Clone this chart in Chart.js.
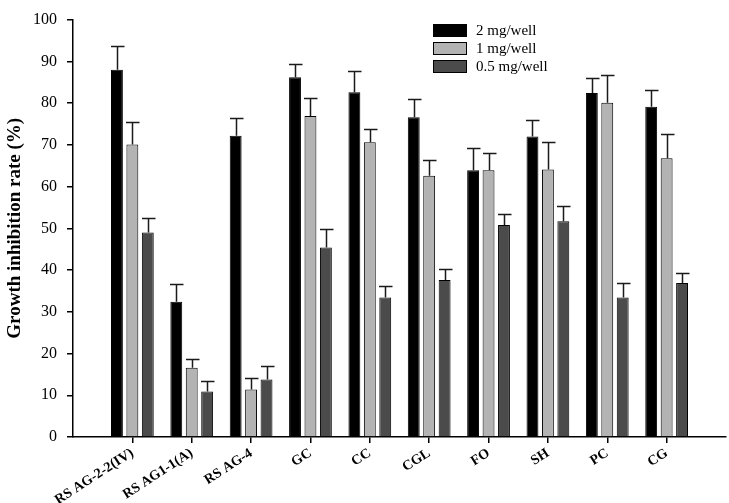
<!DOCTYPE html>
<html>
<head>
<meta charset="utf-8">
<script src="https://cdn.jsdelivr.net/npm/chart.js@4.4.1/dist/chart.umd.min.js"></script>
<style>
  html, body { margin: 0; padding: 0; background: #fff; }
  #wrap { width: 729px; height: 503px; }
</style>
</head>
<body>
<div id="wrap"><canvas id="myChart" width="729" height="503"></canvas></div>
<script>
const categories = ["RS AG-2-2(IV)", "RS AG1-1(A)", "RS AG-4", "GC", "CC", "CGL", "FO", "SH", "PC", "CG"];
const seriesNames = ["2 mg/well", "1 mg/well", "0.5 mg/well"];

const dose2 = [88.0, 32.4, 72.2, 86.2, 82.6, 76.6, 63.9, 72.0, 82.4, 79.1];
const dose1 = [70.1, 16.6, 11.4, 76.9, 70.6, 62.6, 63.9, 64.1, 80.1, 66.8];
const dose05 = [49.0, 10.9, 13.8, 45.4, 33.4, 37.6, 50.8, 51.7, 33.4, 36.9];

const err2 = [5.6, 4.2, 4.2, 3.2, 5.1, 4.3, 5.3, 3.9, 3.5, 4.0];
const err1 = [5.4, 2.1, 2.7, 4.2, 3.3, 3.7, 4.2, 6.6, 6.7, 5.7];
const err05 = [3.5, 2.5, 3.2, 4.5, 2.8, 2.7, 2.6, 3.6, 3.4, 2.5];

const yTicks = [0, 10, 20, 30, 40, 50, 60, 70, 80, 90, 100];

const barColors = ["#000000", "#b3b3b3", "#4b4b4b"];
const serif = '"Liberation Serif", "Times New Roman", serif';

// empty slot on each side so the axis runs past the first and last group
const pad = arr => [null, ...arr, null];
const labels = ["", ...categories, ""];
const errors = [pad(err2), pad(err1), pad(err05)];

const errorBars = {
    id: 'errorBars',
    afterDatasetsDraw(chart) {
        const ctx = chart.ctx;
        const y = chart.scales.y;
        ctx.save();
        ctx.strokeStyle = '#1a1a1a';
        ctx.lineWidth = 1.5;
        chart.data.datasets.forEach((ds, i) => {
            const meta = chart.getDatasetMeta(i);
            meta.data.forEach((bar, j) => {
                const v = ds.data[j];
                const e = errors[i][j];
                if (v == null || e == null) return;
                const top = Math.round(y.getPixelForValue(v + e)) + 0.5;
                const x = Math.round(bar.x) + 0.5;
                ctx.beginPath();
                ctx.moveTo(x, bar.y);
                ctx.lineTo(x, top);
                ctx.moveTo(x - 6.5, top);
                ctx.lineTo(x + 7, top);
                ctx.stroke();
            });
        });
        ctx.restore();
    }
};

const boxLegend = {
    id: 'boxLegend',
    afterDraw(chart) {
        const ctx = chart.ctx;
        ctx.save();
        ctx.font = '15px ' + serif;
        ctx.textBaseline = 'middle';
        chart.data.datasets.forEach((ds, i) => {
            const top = 24 + i * 18;
            ctx.fillStyle = ds.backgroundColor;
            ctx.fillRect(433, top, 34, 13);
            ctx.strokeStyle = '#000';
            ctx.lineWidth = 1;
            ctx.strokeRect(433.5, top + 0.5, 33, 12);
            ctx.fillStyle = '#000';
            ctx.fillText(ds.label, 476, top + 7);
        });
        ctx.restore();
    }
};

new Chart("myChart", {
    type: "bar",
    data: {
        labels: labels,
        datasets: [dose2, dose1, dose05].map((vals, i) => ({
            label: seriesNames[i],
            data: pad(vals),
            backgroundColor: barColors[i],
            borderColor: '#000',
            borderWidth: 1,
            categoryPercentage: 0.78,
            barPercentage: 0.77
        }))
    },
    options: {
        responsive: false,
        animation: false,
        layout: { padding: { top: 10, right: 3, left: 0, bottom: 0 } },
        plugins: {
            legend: { display: false },
            tooltip: { enabled: false }
        },
        scales: {
            x: {
                offset: false,
                grid: {
                    offset: false,
                    drawOnChartArea: false,
                    tickLength: 6,
                    color: ctx => (ctx.index === 0 || ctx.index === labels.length - 1) ? 'rgba(0,0,0,0)' : '#000',
                    lineWidth: 1.5
                },
                border: { color: '#000', width: 1.5 },
                ticks: {
                    autoSkip: false,
                    maxRotation: 33,
                    minRotation: 33,
                    padding: 2,
                    color: '#000',
                    font: { family: serif, size: 14, weight: 'bold' }
                },
                afterFit: scale => {
                    scale.height = 66;
                    scale.paddingLeft = 0;
                    scale.paddingRight = 0;
                }
            },
            y: {
                min: 0,
                max: 100,
                afterBuildTicks: scale => { scale.ticks = yTicks.map(v => ({ value: v })); },
                grid: {
                    drawOnChartArea: false,
                    tickLength: 6,
                    color: '#000',
                    lineWidth: 1.5
                },
                border: { color: '#000', width: 1.5 },
                ticks: {
                    padding: 10,
                    color: '#000',
                    font: { family: serif, size: 16 }
                },
                title: {
                    display: true,
                    text: 'Growth inhibition rate (%)',
                    color: '#000',
                    padding: { top: 4, bottom: 4 },
                    font: { family: serif, size: 19, weight: 'bold' }
                },
                afterFit: scale => { scale.width = 73; }
            }
        }
    },
    plugins: [errorBars, boxLegend]
});
</script>
</body>
</html>
